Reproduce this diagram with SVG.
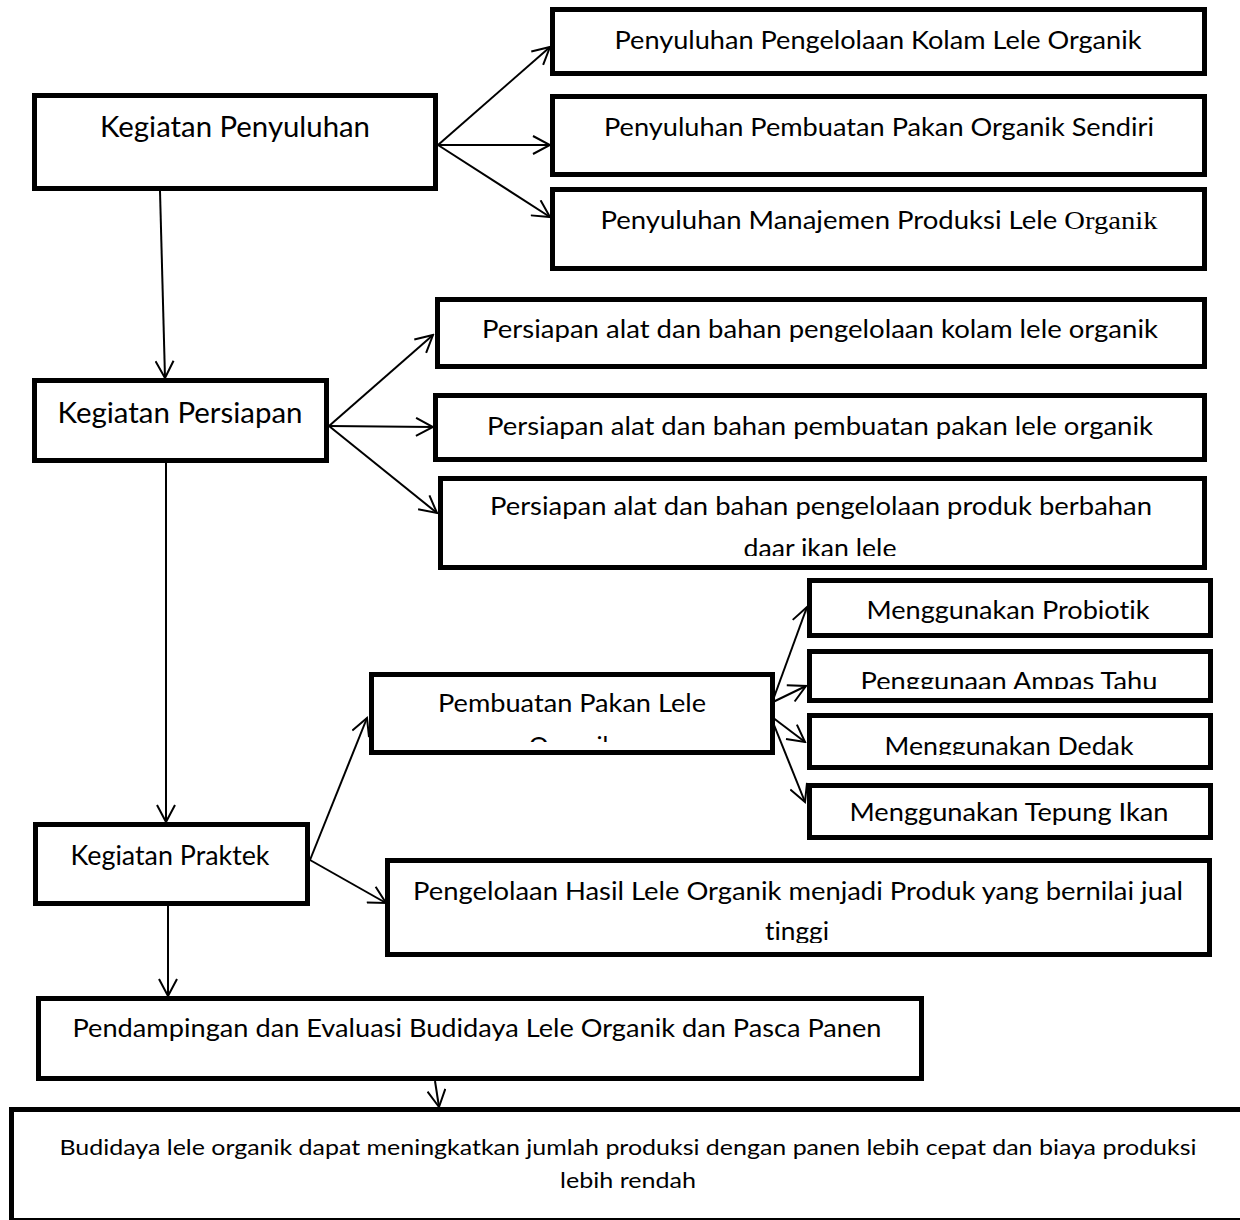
<svg xmlns="http://www.w3.org/2000/svg" width="1240" height="1220" viewBox="0 0 1240 1220">
<style>
.box{fill:#fff;stroke:#000;stroke-width:5}
.t{font-family:Lato,"Liberation Sans",sans-serif;text-anchor:middle;fill:#000;font-variant-ligatures:none;font-feature-settings:"liga" 0,"clig" 0}
.serif{font-family:"Liberation Serif",serif}
.c{fill:none;stroke:#000;stroke-width:2;marker-end:url(#arr)}
</style>
<defs>
<marker id="arr" markerUnits="userSpaceOnUse" viewBox="0 0 20 20" refX="18" refY="10" markerWidth="20" markerHeight="20" orient="auto">
<path d="M1,1 L18,10 L1,19" fill="none" stroke="#000" stroke-width="2"/>
</marker>
<clipPath id="cB3" clipPathUnits="userSpaceOnUse"><rect x="440" y="480" width="764" height="76"/></clipPath>
<clipPath id="cPak" clipPathUnits="userSpaceOnUse"><rect x="372" y="676" width="400" height="66"/></clipPath>
<clipPath id="cC2" clipPathUnits="userSpaceOnUse"><rect x="810" y="653" width="400" height="36"/></clipPath>
<clipPath id="cC3" clipPathUnits="userSpaceOnUse"><rect x="810" y="717" width="400" height="38"/></clipPath>
<clipPath id="cC4" clipPathUnits="userSpaceOnUse"><rect x="810" y="787" width="400" height="38"/></clipPath>
<clipPath id="cHas" clipPathUnits="userSpaceOnUse"><rect x="388" y="862" width="820" height="81"/></clipPath>
</defs>

<g id="connectors">
<line class="c" x1="438" y1="145" x2="550" y2="47"/>
<line class="c" x1="438" y1="145" x2="550" y2="145"/>
<line class="c" x1="438" y1="145" x2="550" y2="217"/>
<line class="c" x1="160" y1="191" x2="165" y2="378"/>
<line class="c" x1="329" y1="426" x2="433" y2="335"/>
<line class="c" x1="329" y1="426" x2="433" y2="427"/>
<line class="c" x1="329" y1="426" x2="437" y2="513"/>
<line class="c" x1="166" y1="463" x2="166" y2="822"/>
<line class="c" x1="310" y1="860" x2="367" y2="718"/>
<line class="c" x1="310" y1="860" x2="386" y2="903"/>
<line class="c" x1="773" y1="700" x2="807" y2="607"/>
<line class="c" x1="773" y1="702" x2="806" y2="686"/>
<line class="c" x1="772" y1="717" x2="805" y2="742"/>
<line class="c" x1="772" y1="720" x2="805" y2="802"/>
<line class="c" x1="168" y1="906" x2="168" y2="996"/>
<line class="c" x1="435" y1="1081" x2="439" y2="1107"/>
</g>

<g id="penyuluhan">
<rect class="box" x="34.5" y="95.5" width="401" height="93"/>
<text class="t" x="235" y="137" font-size="29.5" textLength="270" lengthAdjust="spacingAndGlyphs">Kegiatan Penyuluhan</text>
</g>
<g id="penyuluhan-kolam">
<rect class="box" x="552.5" y="9.5" width="652" height="64"/>
<text class="t" x="878" y="49" font-size="25" textLength="527" lengthAdjust="spacingAndGlyphs">Penyuluhan Pengelolaan Kolam Lele Organik</text>
</g>
<g id="penyuluhan-pakan">
<rect class="box" x="552.5" y="96.5" width="652" height="78"/>
<text class="t" x="879" y="136" font-size="25" textLength="550" lengthAdjust="spacingAndGlyphs">Penyuluhan Pembuatan Pakan Organik Sendiri</text>
</g>
<g id="penyuluhan-manajemen">
<rect class="box" x="552.5" y="189.5" width="652" height="79"/>
<text class="t" x="879" y="229" font-size="25" textLength="557" lengthAdjust="spacingAndGlyphs">Penyuluhan Manajemen Produksi Lele <tspan class="serif" font-size="26">Organik</tspan></text>
</g>

<g id="persiapan">
<rect class="box" x="34.5" y="380.5" width="292" height="80"/>
<text class="t" x="180" y="423" font-size="29.5" textLength="245" lengthAdjust="spacingAndGlyphs">Kegiatan Persiapan</text>
</g>
<g id="persiapan-kolam">
<rect class="box" x="437.5" y="299.5" width="767" height="67"/>
<text class="t" x="820" y="338" font-size="25" textLength="676" lengthAdjust="spacingAndGlyphs">Persiapan alat dan bahan pengelolaan kolam lele organik</text>
</g>
<g id="persiapan-pakan">
<rect class="box" x="435.5" y="395.5" width="769" height="64"/>
<text class="t" x="820" y="435" font-size="25" textLength="666" lengthAdjust="spacingAndGlyphs">Persiapan alat dan bahan pembuatan pakan lele organik</text>
</g>
<g id="persiapan-produk">
<rect class="box" x="440.5" y="478.5" width="764" height="89"/>
<g clip-path="url(#cB3)">
<text class="t" x="821" y="515" font-size="25" textLength="662" lengthAdjust="spacingAndGlyphs">Persiapan alat dan bahan pengelolaan produk berbahan</text>
<text class="t" x="820" y="557" font-size="25" textLength="153" lengthAdjust="spacingAndGlyphs">daar ikan lele</text>
</g>
</g>

<g id="pembuatan-pakan">
<rect class="box" x="371.5" y="674.5" width="401" height="78"/>
<g clip-path="url(#cPak)">
<text class="t" x="572" y="712" font-size="25" textLength="268" lengthAdjust="spacingAndGlyphs">Pembuatan Pakan Lele</text>
<text class="t" x="572" y="755" font-size="25">Organik</text>
</g>
</g>
<g id="probiotik">
<rect class="box" x="809.5" y="580.5" width="401" height="55"/>
<text class="t" x="1008" y="619" font-size="25" textLength="283" lengthAdjust="spacingAndGlyphs">Menggunakan Probiotik</text>
</g>
<g id="ampas-tahu">
<rect class="box" x="809.5" y="651.5" width="401" height="49"/>
<text class="t" x="1009" y="690" font-size="25" textLength="297" lengthAdjust="spacingAndGlyphs" clip-path="url(#cC2)">Penggunaan Ampas Tahu</text>
</g>
<g id="dedak">
<rect class="box" x="809.5" y="715.5" width="401" height="52"/>
<text class="t" x="1009" y="755" font-size="25" textLength="249" lengthAdjust="spacingAndGlyphs" clip-path="url(#cC3)">Menggunakan Dedak</text>
</g>
<g id="tepung-ikan">
<rect class="box" x="809.5" y="785.5" width="401" height="52"/>
<text class="t" x="1009" y="821" font-size="25" textLength="319" lengthAdjust="spacingAndGlyphs" clip-path="url(#cC4)">Menggunakan Tepung Ikan</text>
</g>

<g id="praktek">
<rect class="box" x="35.5" y="824.5" width="272" height="79"/>
<text class="t" x="170" y="865" font-size="27" textLength="199" lengthAdjust="spacingAndGlyphs">Kegiatan Praktek</text>
</g>
<g id="hasil">
<rect class="box" x="387.5" y="860.5" width="822" height="94"/>
<g clip-path="url(#cHas)">
<text class="t" x="798" y="900" font-size="25" textLength="770" lengthAdjust="spacingAndGlyphs">Pengelolaan Hasil Lele Organik menjadi Produk yang bernilai jual</text>
<text class="t" x="797" y="940" font-size="25" textLength="64" lengthAdjust="spacingAndGlyphs">tinggi</text>
</g>
</g>

<g id="pendampingan">
<rect class="box" x="38.5" y="998.5" width="883" height="80"/>
<text class="t" x="477" y="1037" font-size="24.5" textLength="809" lengthAdjust="spacingAndGlyphs">Pendampingan dan Evaluasi Budidaya Lele Organik dan Pasca Panen</text>
</g>
<g id="hasil-akhir">
<rect class="box" x="11.5" y="1109.5" width="1260" height="111"/>
<text class="t" x="628" y="1155" font-size="21.5" textLength="1137" lengthAdjust="spacingAndGlyphs">Budidaya lele organik dapat meningkatkan jumlah produksi dengan panen lebih cepat dan biaya produksi</text>
<text class="t" x="628" y="1188" font-size="21.5" textLength="136" lengthAdjust="spacingAndGlyphs">lebih rendah</text>
</g>
</svg>
